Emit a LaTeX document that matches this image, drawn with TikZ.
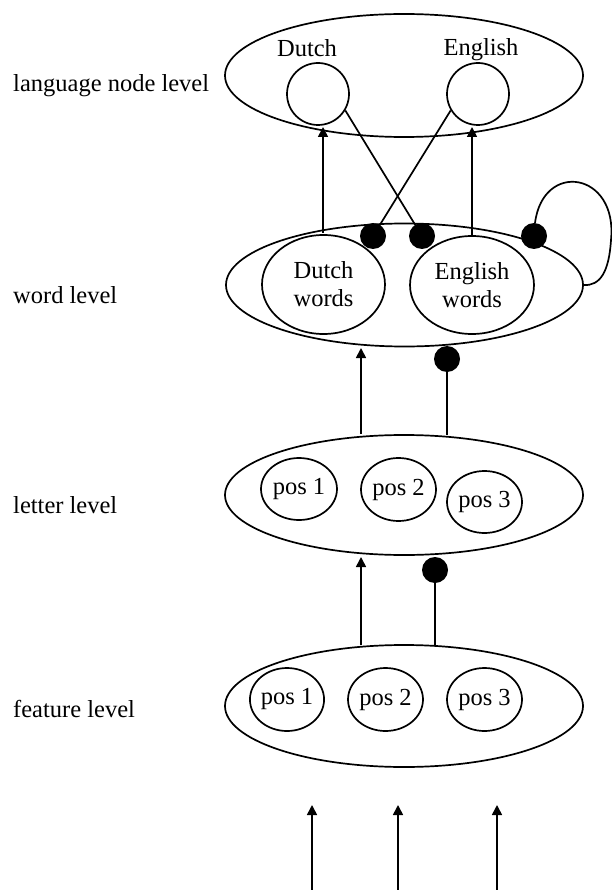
\documentclass[tikz,border=0pt]{standalone}
\usepackage{fontspec}
\setmainfont{Liberation Serif}
\usetikzlibrary{shapes.geometric,arrows.meta}
\begin{document}
\begin{tikzpicture}[x=1pt,y=-1pt,
  every node/.style={font=\fontsize{24.5}{28}\selectfont},
  ln/.style={line width=1.7pt},
  ell/.style={draw, ellipse, ln, inner sep=0pt, align=center},
  dotnode/.style={circle, fill=black, draw=none, inner sep=0pt, minimum size=26pt},
  arr/.style={ln, -{Triangle[length=10pt,width=10pt]}},
  lvl/.style={anchor=base west, inner sep=0pt},
  toplab/.style={anchor=base, inner sep=0pt}
]
\useasboundingbox (0,0) rectangle (612,890);

% level labels
\node[lvl] (l1) at (13,92) {language node level};
\node[lvl] (l2) at (13,303) {word level};
\node[lvl] (l3) at (13,513) {letter level};
\node[lvl] (l4) at (13,717) {feature level};

% language node level
\node[ell, minimum width=358pt, minimum height=123pt] (lang) at (404,75.5) {};
\node[ell, circle, minimum size=62pt] (dutch) at (318,94) {};
\node[ell, circle, minimum size=62pt] (english) at (478,94) {};
\node[toplab] (dutchlab) at (307,57) {Dutch};
\node[toplab] (englab) at (481,56) {English};

% word level
\node[ell, minimum width=357pt, minimum height=123pt] (word) at (404.5,285) {};
\node[ell, minimum width=123pt, minimum height=99pt] (dw) at (323.5,284.5) {Dutch\\words};
\node[ell, minimum width=124pt, minimum height=98pt] (ew) at (472,285) {English\\words};

% letter level
\node[ell, minimum width=358pt, minimum height=120pt] (letter) at (404,495) {};
\node[ell, minimum width=76pt, minimum height=62pt] (lp1) at (299,489) {pos 1};
\node[ell, minimum width=75pt, minimum height=63pt] (lp2) at (398.5,489.5) {pos 2};
\node[ell, minimum width=75pt, minimum height=62pt] (lp3) at (484.5,502) {pos 3};

% feature level
\node[ell, minimum width=358pt, minimum height=122pt] (feature) at (404,706) {};
\node[ell, minimum width=74pt, minimum height=63pt] (fp1) at (287,699.5) {pos 1};
\node[ell, minimum width=75pt, minimum height=63pt] (fp2) at (385.5,699.5) {pos 2};
\node[ell, minimum width=75pt, minimum height=63pt] (fp3) at (484.5,699.5) {pos 3};

% coordinates
\coordinate (dwtop) at (323,233);
\coordinate (dutchbot) at (323,127);
\coordinate (ewtop) at (472,236);
\coordinate (engbot) at (472,127);
\coordinate (wl1) at (361,434);
\coordinate (wl1t) at (361,348);
\coordinate (wl2) at (447,435);
\coordinate (lf1) at (361,645);
\coordinate (lf1t) at (361,557);
\coordinate (lf2) at (435,645);
\coordinate (b1) at (312,890);
\coordinate (t1) at (312,805);
\coordinate (b2) at (398,890);
\coordinate (t2) at (398,805);
\coordinate (b3) at (497,890);
\coordinate (t3) at (497,805);

% dots (positions)
\coordinate (d1c) at (373,236);
\coordinate (d2c) at (422,236);
\coordinate (d3c) at (534,236);
\coordinate (d4c) at (447,359);
\coordinate (d5c) at (435,570);

% connectors
\draw[arr] (dwtop) -- (dutchbot);
\draw[arr] (ewtop) -- (engbot);
\draw[ln] (dutch.-31) -- (d2c);
\draw[ln] (english.211) -- (d1c);
\draw[ln] (d3c) ++(1,-13) .. controls (543,160) and (618,172) .. (611,240)
   .. controls (609,272) and (600,286) .. (word.east);
\draw[arr] (wl1) -- (wl1t);
\draw[ln] (wl2) -- (d4c);
\draw[arr] (lf1) -- (lf1t);
\draw[ln] (lf2) -- (d5c);
\draw[arr] (b1) -- (t1);
\draw[arr] (b2) -- (t2);
\draw[arr] (b3) -- (t3);

\node[dotnode] (d1) at (d1c) {};
\node[dotnode] (d2) at (d2c) {};
\node[dotnode] (d3) at (d3c) {};
\node[dotnode] (d4) at (d4c) {};
\node[dotnode] (d5) at (d5c) {};
\end{tikzpicture}
\end{document}
